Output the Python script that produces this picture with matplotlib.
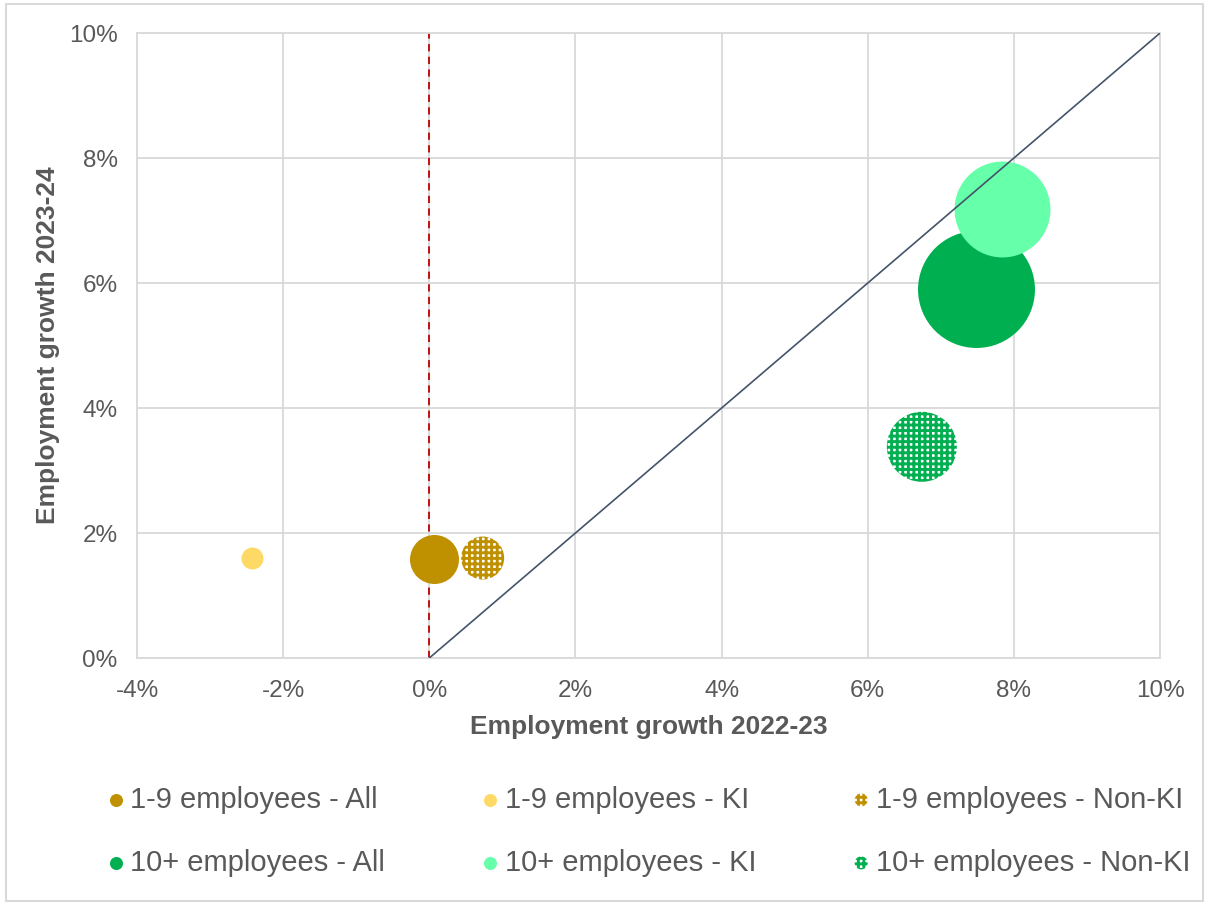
import matplotlib
matplotlib.use("Agg")
import matplotlib.pyplot as plt
from matplotlib.ticker import FuncFormatter
from matplotlib.patches import Rectangle

plt.rcParams['font.family'] = ['Liberation Sans', 'DejaVu Sans']
plt.rcParams['hatch.linewidth'] = 2.1

# Datos de la serie (crecimiento del empleo, %)
etiquetas = ["1-9 employees - All", "1-9 employees - KI", "1-9 employees - Non-KI",
             "10+ employees - All", "10+ employees - KI", "10+ employees - Non-KI"]
crecimiento_2223 = [0.06, -2.43, 0.73, 7.48, 7.84, 6.74]
crecimiento_2324 = [1.59, 1.60, 1.60, 5.91, 7.18, 3.38]
tamano_burbuja = [600, 121, 462, 3420, 2300, 1225]
colores = ["#BF9000", "#FFD966", "#BF9000", "#00B050", "#66FFAA", "#00B050"]
patrones = [None, None, "+++", None, None, "+++"]

ticks_x = [-4, -2, 0, 2, 4, 6, 8, 10]
ticks_y = [0, 2, 4, 6, 8, 10]

fig = plt.figure(figsize=(12.05, 9.05), dpi=100)
ax = fig.add_axes([0.1137, 0.2729, 0.8490, 0.6906])

# Borde gris de la figura
fig.patches.append(Rectangle((0.005, 0.004), 0.993, 0.992, transform=fig.transFigure,
                             fill=False, edgecolor="#D9D9D9", linewidth=1.5))

# Orden de dibujo: All, Non-KI, KI (KI encima)
orden = [0, 2, 1, 3, 5, 4]
handles = {}
for i in orden:
    s = tamano_burbuja[i] * 2.0736
    if patrones[i]:
        h = ax.scatter(crecimiento_2223[i], crecimiento_2324[i], s=s, facecolor="white",
                       edgecolor=colores[i], hatch=patrones[i], linewidths=0, zorder=3,
                       label=etiquetas[i])
    else:
        h = ax.scatter(crecimiento_2223[i], crecimiento_2324[i], s=s, color=colores[i],
                       linewidths=0, zorder=3, label=etiquetas[i])
    handles[i] = h

# Linea de 45 grados y linea vertical en cero
ax.plot([0, 10], [0, 10], color="#44546A", linewidth=1.2, zorder=4)
ax.axvline(0, color="#C00000", linewidth=1.3, linestyle=(0, (4, 3)), zorder=2)

ax.set_xlim(-4, 10)
ax.set_ylim(0, 10)
ax.set_xticks(ticks_x)
ax.set_yticks(ticks_y)
ax.xaxis.set_major_formatter(FuncFormatter(lambda v, p: f"{v:.0f}%"))
ax.yaxis.set_major_formatter(FuncFormatter(lambda v, p: f"{v:.0f}%"))
ax.grid(True, color="#D9D9D9", linewidth=1.3, zorder=0)
ax.set_axisbelow(True)
for lado in ax.spines.values():
    lado.set_color("#D9D9D9")
    lado.set_linewidth(1.3)
ax.tick_params(axis="y", length=0, labelsize=17.5, labelcolor="#595959", pad=14)
ax.tick_params(axis="x", length=0, labelsize=17.5, labelcolor="#595959", pad=15.5)

ax.set_xlabel("Employment growth 2022-23", fontsize=19, fontweight="bold",
              color="#595959", labelpad=10)
ax.set_ylabel("Employment growth 2023-24", fontsize=19, fontweight="bold",
              color="#595959", labelpad=6)

orden_leyenda = [0, 3, 1, 4, 2, 5]
leg = fig.legend([handles[i] for i in orden_leyenda], [etiquetas[i] for i in orden_leyenda],
                 loc="upper left", bbox_to_anchor=(0.0863, 0.132), ncol=3, frameon=False,
                 fontsize=21, labelcolor="#595959", handlelength=0.8, handletextpad=0.1,
                 columnspacing=3.2, labelspacing=1.2, borderpad=0, borderaxespad=0,
                 scatterpoints=1)
for h in leg.legend_handles:
    h.set_sizes([88])

fig.savefig("out.png", dpi=100)
